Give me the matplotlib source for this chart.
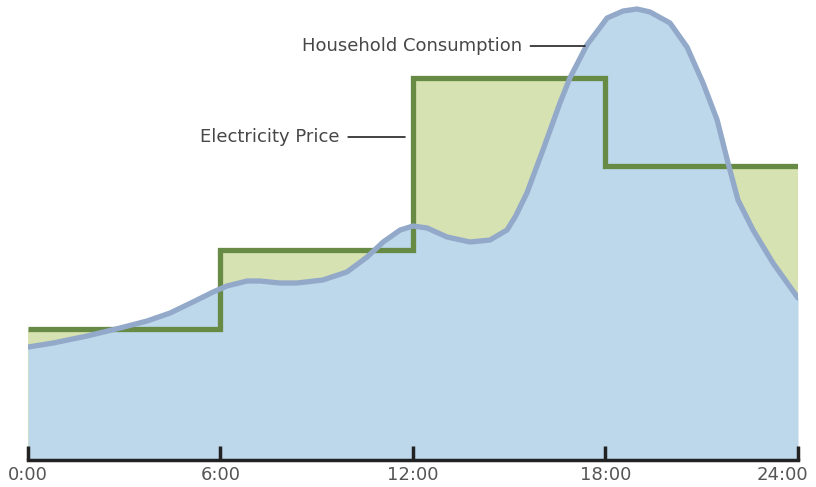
import matplotlib.pyplot as plt
import matplotlib.transforms as mtransforms

# hours of the day and the tick labels
tick_hours = [0, 6, 12, 18, 24]
tick_labels = ["0:00", "6:00", "12:00", "18:00", "24:00"]

# electricity price, one level per 6 hour block (last value repeated for the step end)
price_hours = [0, 6, 12, 18, 24]
price_level = [131, 210, 382, 294, 294]

# household consumption
cons_hours = [0.00, 0.78, 1.84, 2.87, 3.71, 4.43, 5.14, 5.77, 6.20, 6.83,
              7.23, 7.85, 8.38, 9.19, 9.94, 10.57, 11.07, 11.60, 12.00, 12.44,
              13.06, 13.78, 14.40, 14.93, 15.20, 15.55, 16.05, 16.58, 16.89, 17.42,
              18.05, 18.55, 18.98, 19.39, 20.01, 20.54, 21.04, 21.48, 21.82, 22.13,
              22.60, 23.22, 24.00]
cons_level = [113, 117, 124, 132, 139, 147, 158, 168, 174, 179,
              179, 177, 177, 180, 188, 203, 218, 230, 234, 232,
              223, 218, 220, 230, 244, 267, 310, 357, 382, 415,
              442, 449, 451, 448, 437, 413, 377, 340, 297, 260,
              230, 197, 162]

green_line = "#678a45"
green_fill = "#d6e2b2"
blue_line = "#93a9c9"
blue_fill = "#bdd7eb"
text_col = "#474747"

fig = plt.figure(figsize=(8.16, 4.87), dpi=100)
ax = fig.add_axes([28 / 816, 27 / 487, 770 / 816, 460 / 487])

ax.fill_between(price_hours, 0, price_level, step="post", color=green_fill, lw=0)
ax.fill_between(cons_hours, 0, cons_level, color=blue_fill, lw=0)
ax.step(price_hours, price_level, where="post", color=green_line, lw=3.8,
        solid_joinstyle="miter", solid_capstyle="butt")
ax.plot(cons_hours, cons_level, color=blue_line, lw=3.8,
        solid_joinstyle="round", solid_capstyle="round")

ax.set_xlim(0, 24)
ax.set_ylim(0, 460)
for s in ["left", "right", "top"]:
    ax.spines[s].set_visible(False)
ax.spines["bottom"].set_linewidth(2.5)
ax.spines["bottom"].set_color("#222222")
ax.spines["bottom"].set_capstyle("projecting")
ax.set_yticks([])
ax.set_xticks(tick_hours)
ax.set_xticklabels(tick_labels)
ax.tick_params(axis="x", direction="in", length=10, width=2.5, color="#222222",
               labelsize=13, labelcolor="#555555", pad=4)
# the last label sits a bit left so it stays inside the picture
last = ax.get_xticklabels()[-1]
last.set_transform(last.get_transform() +
                   mtransforms.ScaledTranslation(-0.16, 0, fig.dpi_scale_trans))

# labels with short leader lines
ax.annotate("Household Consumption", xy=(17.36, 414), xytext=(15.40, 414),
            ha="right", va="center", fontsize=13, color=text_col,
            arrowprops=dict(arrowstyle="-", color="#222222", lw=1.2,
                            shrinkA=4, shrinkB=0))
ax.annotate("Electricity Price", xy=(11.75, 323), xytext=(9.72, 323),
            ha="right", va="center", fontsize=13, color=text_col,
            arrowprops=dict(arrowstyle="-", color="#222222", lw=1.2,
                            shrinkA=4, shrinkB=0))

fig.savefig("out.png", dpi=100)
